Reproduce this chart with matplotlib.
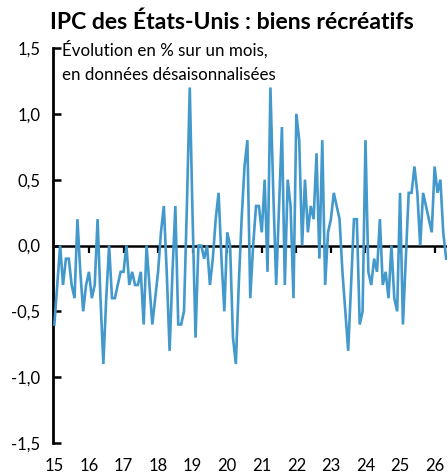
import matplotlib
matplotlib.use('Agg')
import matplotlib.pyplot as plt
import numpy as np

# monthly change in %, Jan 2015 onwards
values = [
    -0.6, -0.3, 0.0, -0.3, -0.1, -0.1, -0.3, -0.4, 0.2, -0.2, -0.5, -0.3,   # 2015
    -0.2, -0.4, -0.3, 0.2, -0.4, -0.9, -0.4, 0.0, -0.4, -0.4, -0.3, -0.2,   # 2016
    -0.2, 0.0, -0.3, -0.2, -0.3, -0.3, -0.2, -0.6, 0.0, -0.3, -0.6, -0.4,   # 2017
    -0.2, 0.1, 0.3, -0.2, -0.8, -0.2, 0.3, -0.6, -0.6, -0.5, 0.3, 1.2,      # 2018
    0.2, -0.7, 0.0, 0.0, -0.1, 0.0, -0.3, -0.1, 0.2, 0.4, -0.1, -0.5,       # 2019
    0.1, 0.0, -0.7, -0.9, -0.3, 0.2, 0.6, 0.8, -0.4, 0.0, 0.3, 0.3,         # 2020
    0.1, 0.5, -0.2, 1.2, 0.4, -0.3, 0.3, 0.9, -0.3, 0.5, 0.3, -0.4,         # 2021
    1.0, 0.8, 0.0, 0.5, 0.1, 0.3, 0.2, 0.7, -0.1, 0.8, -0.3, 0.1,           # 2022
    0.2, 0.4, 0.3, 0.2, -0.2, -0.5, -0.8, -0.3, 0.2, 0.2, -0.6, -0.5,       # 2023
    0.8, -0.2, -0.3, -0.1, -0.2, 0.2, -0.3, -0.2, -0.4, 0.0, -0.4, -0.5,    # 2024
    0.4, -0.6, -0.1, 0.4, 0.4, 0.6, 0.4, 0.0, 0.4, 0.3, 0.2, 0.1,           # 2025
    0.6, 0.4, 0.5, 0.1, -0.1,                                               # 2026
]
years = list(range(2015, 2027))
year_labels = [str(y)[2:] for y in years]
yticks = [-1.5, -1.0, -0.5, 0.0, 0.5, 1.0, 1.5]
ytick_labels = [f"{v:.1f}".replace('.', ',') for v in yticks]

title = "IPC des États-Unis : biens récréatifs"
subtitle = ["Évolution en % sur un mois,", "en données désaisonnalisées"]

plt.rcParams['font.family'] = ['Lato', 'DejaVu Sans']

W, H = 448, 476
fig = plt.figure(figsize=(W / 100, H / 100), dpi=100)
ax = fig.add_axes([53 / W, 1 - 443 / H, (447 - 53) / W, (443 - 48) / H])

x = 2015 + np.arange(len(values)) / 12
ax.plot(x, values, color='#4399CC', lw=1.9, solid_joinstyle='miter', zorder=3)

# zero line with year ticks
ax.axhline(0, color='black', lw=1.8, zorder=2)
ax.vlines(years[1:], -0.055, 0, color='black', lw=1.6, zorder=2)

ax.set_xlim(2015 - 0.04, 2015 + 136.3 / 12)
ax.set_ylim(-1.5, 1.5)

for s in ['top', 'right', 'bottom']:
    ax.spines[s].set_visible(False)
ax.spines['left'].set_linewidth(2)
ax.spines['left'].set_bounds(-1.5, 1.5)

ax.set_yticks(yticks)
ax.set_yticklabels(ytick_labels)
ax.tick_params(axis='y', direction='in', length=6, width=1.8, pad=9, labelsize=12, colors='black')
ax.set_xticks(years)
ax.set_xticklabels(year_labels)
ax.tick_params(axis='x', length=0, pad=11, labelsize=12)

fig.text(50 / W, 1 - 29 / H, title, fontsize=16.6, fontweight='bold', va='baseline', ha='left')
fig.text(62 / W, 1 - 56 / H, subtitle[0], fontsize=12.2, va='baseline', ha='left')
fig.text(62 / W, 1 - 80 / H, subtitle[1], fontsize=12.2, va='baseline', ha='left')

fig.savefig('out.png', dpi=100)
